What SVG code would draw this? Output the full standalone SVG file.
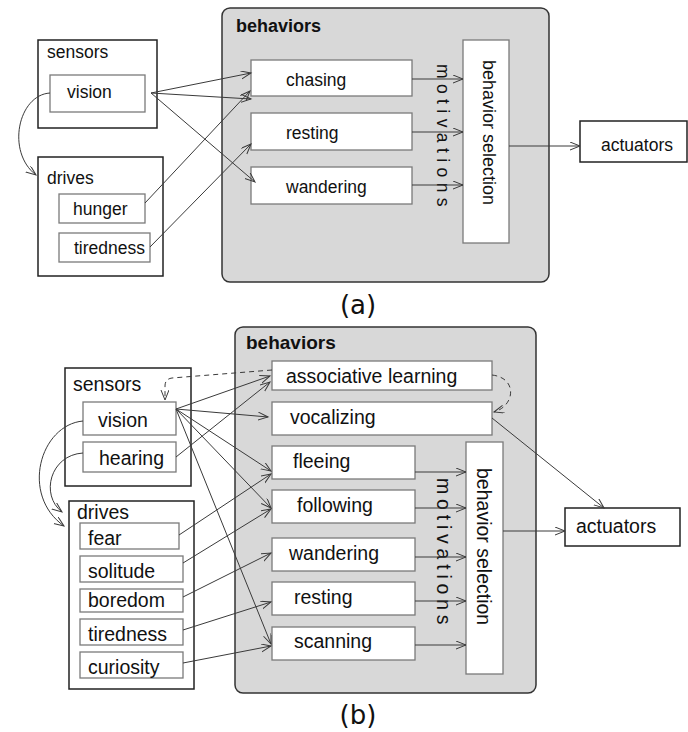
<svg xmlns="http://www.w3.org/2000/svg" width="688" height="732" viewBox="0 0 688 732">
  <style>
    .bg { fill: #ffffff; }
    .outer { fill: #ffffff; stroke: #222222; stroke-width: 1.5; }
    .inner { fill: #ffffff; stroke: #7a7a7a; stroke-width: 1.3; }
    .beh { fill: #d8d8d8; stroke: #333333; stroke-width: 1.5; }
    .lbl { font-family: "Liberation Sans", Arial, sans-serif; fill: #111111; }
    .a { font-size: 17.5px; }
    .b { font-size: 19.5px; }
    .bold { font-weight: bold; }
    .cap { font-family: "DejaVu Sans", "Open Sans", sans-serif; font-size: 26px; fill: #111111; text-anchor: middle; }
    .edge { fill: none; stroke: #3a3a3a; stroke-width: 1; marker-end: url(#arrow); }
    .dash { stroke-dasharray: 5 4; }
  </style>
  <defs>
    <marker id="arrow" markerUnits="userSpaceOnUse" markerWidth="12" markerHeight="10" refX="10" refY="4" orient="auto">
      <path d="M0,0 L10,4 L0,8" fill="none" stroke="#3a3a3a" stroke-width="1"/>
    </marker>
  </defs>
  <rect class="bg" x="0" y="0" width="688" height="732"/>

  <!-- ===== Panel (a) ===== -->
  <g id="a-behaviors">
    <rect class="beh" x="222" y="8" width="327" height="274" rx="8"/>
    <text class="lbl bold" x="236" y="32" font-size="18">behaviors</text>
  </g>
  <g id="a-sensors">
    <rect class="outer" x="38" y="40" width="119" height="88"/>
    <text class="lbl a" x="47" y="58">sensors</text>
  </g>
  <g id="a-vision">
    <rect class="inner" x="50" y="75" width="95" height="37"/>
    <text class="lbl a" x="67" y="98">vision</text>
  </g>
  <g id="a-drives">
    <rect class="outer" x="38" y="157" width="125" height="119"/>
    <text class="lbl a" x="47" y="184">drives</text>
  </g>
  <g id="a-hunger">
    <rect class="inner" x="59" y="194" width="86" height="29"/>
    <text class="lbl a" x="73" y="215">hunger</text>
  </g>
  <g id="a-tiredness">
    <rect class="inner" x="59" y="233" width="91" height="29"/>
    <text class="lbl a" x="74" y="254">tiredness</text>
  </g>
  <g id="a-chasing">
    <rect class="inner" x="251" y="60" width="161" height="36"/>
    <text class="lbl a" x="286" y="86">chasing</text>
  </g>
  <g id="a-resting">
    <rect class="inner" x="251" y="113" width="161" height="37"/>
    <text class="lbl a" x="286" y="139">resting</text>
  </g>
  <g id="a-wandering">
    <rect class="inner" x="251" y="167" width="161" height="37"/>
    <text class="lbl a" x="286" y="193">wandering</text>
  </g>
  <g id="a-motivations">
    <text class="lbl a" x="437" y="64" letter-spacing="5.4" transform="rotate(90 437 64)">motivations</text>
  </g>
  <g id="a-selection">
    <rect class="inner" x="463" y="40" width="46" height="203"/>
    <text class="lbl" font-size="18" x="483" y="60" transform="rotate(90 483 60)">behavior selection</text>
  </g>
  <g id="a-actuators">
    <rect class="outer" x="580" y="121" width="107" height="41"/>
    <text class="lbl a" x="601" y="151">actuators</text>
  </g>
  <text class="cap" x="358" y="314">(a)</text>

  <g id="a-connectors">
    <path class="edge" d="M50,93 C18,95 6,152 36,175"/>
    <path class="edge" d="M151,93 L251,73"/>
    <path class="edge" d="M151,93 L251,99"/>
    <path class="edge" d="M151,93 L255,182"/>
    <path class="edge" d="M145,203 L250,91"/>
    <path class="edge" d="M150,247 L251,144"/>
    <path class="edge" d="M412,79 L463,79"/>
    <path class="edge" d="M412,132 L463,132"/>
    <path class="edge" d="M412,185 L463,185"/>
    <path class="edge" d="M509,146 L580,146"/>
  </g>

  <!-- ===== Panel (b) ===== -->
  <g id="b-behaviors">
    <rect class="beh" x="235" y="327" width="301" height="366" rx="8"/>
    <text class="lbl bold" x="246" y="349" font-size="19">behaviors</text>
  </g>
  <g id="b-sensors">
    <rect class="outer" x="65" y="368" width="126" height="118"/>
    <text class="lbl b" x="73" y="391">sensors</text>
  </g>
  <g id="b-vision">
    <rect class="inner" x="83" y="402" width="93" height="33"/>
    <text class="lbl b" x="98" y="427">vision</text>
  </g>
  <g id="b-hearing">
    <rect class="inner" x="83" y="442" width="93" height="30"/>
    <text class="lbl b" x="99" y="465">hearing</text>
  </g>
  <g id="b-drives">
    <rect class="outer" x="69" y="501" width="125" height="188"/>
    <text class="lbl b" x="77" y="519">drives</text>
  </g>
  <g id="b-fear">
    <rect class="inner" x="80" y="523" width="99" height="26"/>
    <text class="lbl b" x="88" y="545">fear</text>
  </g>
  <g id="b-solitude">
    <rect class="inner" x="80" y="556" width="103" height="26"/>
    <text class="lbl b" x="88" y="578">solitude</text>
  </g>
  <g id="b-boredom">
    <rect class="inner" x="80" y="589" width="103" height="23"/>
    <text class="lbl b" x="88" y="607">boredom</text>
  </g>
  <g id="b-tiredness">
    <rect class="inner" x="80" y="619" width="103" height="26"/>
    <text class="lbl b" x="88" y="641">tiredness</text>
  </g>
  <g id="b-curiosity">
    <rect class="inner" x="80" y="652" width="103" height="26"/>
    <text class="lbl b" x="88" y="674">curiosity</text>
  </g>
  <g id="b-assoc">
    <rect class="inner" x="272" y="361" width="220" height="29"/>
    <text class="lbl b" x="286" y="383">associative learning</text>
  </g>
  <g id="b-vocalizing">
    <rect class="inner" x="272" y="402" width="220" height="33"/>
    <text class="lbl b" x="290" y="424">vocalizing</text>
  </g>
  <g id="b-fleeing">
    <rect class="inner" x="272" y="446" width="143" height="33"/>
    <text class="lbl b" x="293" y="468">fleeing</text>
  </g>
  <g id="b-following">
    <rect class="inner" x="272" y="490" width="143" height="33"/>
    <text class="lbl b" x="297" y="512">following</text>
  </g>
  <g id="b-wandering">
    <rect class="inner" x="272" y="538" width="143" height="33"/>
    <text class="lbl b" x="289" y="560">wandering</text>
  </g>
  <g id="b-resting">
    <rect class="inner" x="272" y="582" width="143" height="33"/>
    <text class="lbl b" x="294" y="604">resting</text>
  </g>
  <g id="b-scanning">
    <rect class="inner" x="272" y="627" width="143" height="33"/>
    <text class="lbl b" x="294" y="648">scanning</text>
  </g>
  <g id="b-motivations">
    <text class="lbl b" x="437" y="478" letter-spacing="4.8" transform="rotate(90 437 478)">motivations</text>
  </g>
  <g id="b-selection">
    <rect class="inner" x="466" y="442" width="37" height="232"/>
    <text class="lbl b" x="477" y="468" transform="rotate(90 477 468)">behavior selection</text>
  </g>
  <g id="b-actuators">
    <rect class="outer" x="565" y="508" width="115" height="38"/>
    <text class="lbl b" x="576" y="533">actuators</text>
  </g>
  <text class="cap" x="358" y="724">(b)</text>

  <g id="b-connectors">
    <path class="edge" d="M83,421 C40,425 20,495 64,526"/>
    <path class="edge" d="M83,453 C50,455 40,495 62,512"/>
    <path class="edge dash" d="M272,370 L172,378 Q165,379 165,386 L165,400"/>
    <path class="edge dash" d="M492,375 C518,378 515,406 494,412"/>
    <path class="edge" d="M176,409 L270,376"/>
    <path class="edge" d="M176,409 L268,417"/>
    <path class="edge" d="M176,409 L271,471"/>
    <path class="edge" d="M176,409 L271,508"/>
    <path class="edge" d="M176,409 L271,644"/>
    <path class="edge" d="M176,457 L270,382"/>
    <path class="edge" d="M179,535 L271,474"/>
    <path class="edge" d="M183,563 L271,509"/>
    <path class="edge" d="M183,597 L271,553"/>
    <path class="edge" d="M183,630 L271,602"/>
    <path class="edge" d="M183,663 L271,646"/>
    <path class="edge" d="M492,418 L604,508"/>
    <path class="edge" d="M415,472 L466,472"/>
    <path class="edge" d="M415,508 L466,508"/>
    <path class="edge" d="M415,557 L466,557"/>
    <path class="edge" d="M415,601 L466,601"/>
    <path class="edge" d="M415,645 L466,645"/>
    <path class="edge" d="M503,531 L565,531"/>
  </g>
</svg>
